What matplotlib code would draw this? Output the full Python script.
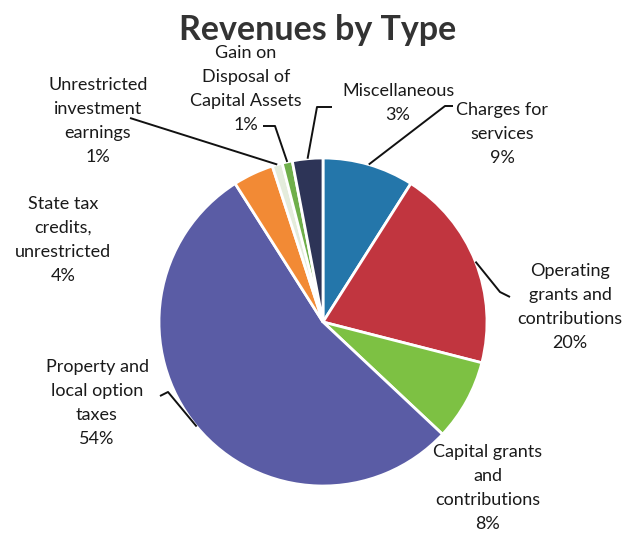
import numpy as np
import matplotlib as mp
mp.use('Agg')
import matplotlib.pyplot as plt

# revenue shares, clockwise from 12 o'clock
names = ['Charges for\nservices', 'Operating\ngrants and\ncontributions',
         'Capital grants\nand\ncontributions', 'Property and\nlocal option\ntaxes',
         'State tax\ncredits,\nunrestricted', 'Unrestricted\ninvestment\nearnings',
         'Gain on\nDisposal of\nCapital Assets', 'Miscellaneous']
shares = [9, 20, 8, 54, 4, 1, 1, 3]
colors = ['#2476AA', '#C1353F', '#7DC143', '#5A5CA5', '#F28A35', '#E4ECDC',
          '#6FAF4A', '#2D3457']

W, H = 633, 540
cx, cy, r = 323, H - 322, 164

fig = plt.figure(figsize=(W / 100, H / 100), dpi=100)
ax = fig.add_axes([0, 0, 1, 1])

wedges, _ = ax.pie(shares, colors=colors, startangle=90, counterclock=False,
                   center=(cx, cy), radius=r, frame=True,
                   wedgeprops=dict(edgecolor='white', linewidth=2))
ax.set_xlim(0, W)
ax.set_ylim(0, H)
ax.set_aspect('equal')
ax.axis('off')

FONT = 'Lato'
ax.text(318, H - 30, 'Revenues by Type', ha='center', va='center',
        fontsize=24.5, fontweight='bold', family=FONT, color='#333333')

# label centre (pixels from top-left), leader elbow or None
labels = [
    ((502, 134), [(453, 106), (445, 106)]),
    ((570, 307), [(510, 297), (500, 292)]),
    ((488, 488), None),
    ((97, 403), [(160, 396), (168, 392)]),
    ((63, 240), None),
    ((98, 121), [(130, 118)]),
    ((246, 89), [(263, 126), (275, 126)]),
    ((398, 103), [(332, 107), (317, 107)]),
]

cum = np.cumsum([0] + shares)
total = float(sum(shares))
for i, (name, val) in enumerate(zip(names, shares)):
    (lx, ly), leader = labels[i]
    ax.text(lx, H - ly, f'{name}\n{val}%', ha='center', va='center',
            fontsize=13, family=FONT, color='#1a1a1a', linespacing=1.6)
    if leader is None:
        continue
    mid = np.deg2rad((cum[i] + val / 2) / total * 360)
    ex, ey = cx + r * np.sin(mid), cy + r * np.cos(mid)
    xs = [p[0] for p in leader] + [ex]
    ys = [H - p[1] for p in leader] + [ey]
    ax.plot(xs, ys, color='#111111', lw=1.4, solid_capstyle='butt')

plt.savefig('out.png', dpi=100, facecolor='white')
